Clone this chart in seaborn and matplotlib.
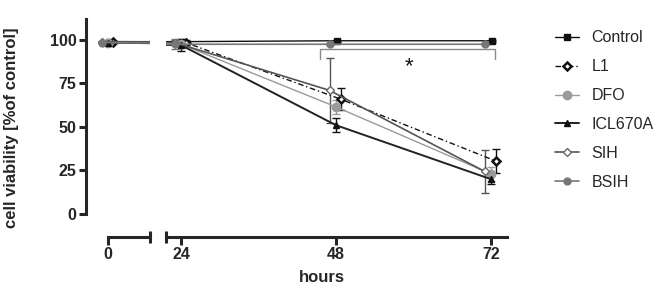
import numpy as np
import pandas as pd
import matplotlib
matplotlib.use("Agg")
import matplotlib.pyplot as plt
import seaborn as sns

# ===================== data (mean ± SD, % of control) =====================
hours = [0, 24, 48, 72]
groups = ["Control", "L1", "DFO", "ICL670A", "SIH", "BSIH"]

control = [99.0, 99.0, 99.5, 99.5]
control_sd = [0.5, 0.5, 0.5, 0.5]
l1 = [99.0, 98.5, 66.0, 30.5]
l1_sd = [0.5, 1.5, 6.5, 7.0]
dfo = [98.5, 97.5, 61.5, 23.0]
dfo_sd = [0.5, 2.0, 4.0, 4.0]
icl670a = [98.5, 97.0, 51.0, 20.0]
icl670a_sd = [0.5, 3.5, 4.0, 3.0]
sih = [99.0, 98.5, 71.0, 24.5]
sih_sd = [0.5, 1.5, 18.5, 12.5]
bsih = [98.5, 97.5, 97.5, 97.5]
bsih_sd = [0.5, 3.0, 0.5, 0.5]

means = dict(zip(groups, [control, l1, dfo, icl670a, sih, bsih]))
sds = dict(zip(groups, [control_sd, l1_sd, dfo_sd, icl670a_sd, sih_sd, bsih_sd]))

rows = []
for g in groups:
    for h, m, s in zip(hours, means[g], sds[g]):
        rows.append({"group": g, "hours": h, "viability": m, "sd": s})
df = pd.DataFrame(rows)

# ===================== style =====================
sns.set_style("ticks")
plt.rcParams["font.family"] = ["Liberation Sans", "DejaVu Sans"]

# GraphPad-like nudges so points don't sit on top of each other
styles = {
    "Control": dict(color="#111111", marker="s", mfc="#111111", mec="#111111", ls="-", lw=1.0, ms=5, mew=1.0, dx=0.15),
    "L1": dict(color="#111111", marker="D", mfc="white", mec="#111111", ls=(0, (4, 2, 1, 2)), lw=1.0, ms=4.5, mew=1.8, dx=0.7),
    "DFO": dict(color="#9a9a9a", marker="o", mfc="#9a9a9a", mec="#9a9a9a", ls="-", lw=1.0, ms=6, mew=1.0, dx=0.0),
    "ICL670A": dict(color="#222222", marker="^", mfc="#111111", mec="#111111", ls="-", lw=1.4, ms=5, mew=1.0, dx=0.0),
    "SIH": dict(color="#555555", marker="D", mfc="white", mec="#666666", ls="-", lw=1.2, ms=4.5, mew=1.0, dx=-1.0),
    "BSIH": dict(color="#777777", marker="o", mfc="#777777", mec="#777777", ls="-", lw=1.2, ms=5, mew=1.0, dx=-1.0),
}

fig = plt.figure(figsize=(6.6, 2.9), dpi=100)
W, H = 660, 290
px_per_h = 155 / 24
y_bottom, y_top = 214, 19
ymax = 112

def box(x0, x1):
    return [x0 / W, (H - y_bottom) / H, (x1 - x0) / W, (y_bottom - y_top) / H]

ax1 = fig.add_axes(box(86, 150))
ax2 = fig.add_axes(box(166, 510), sharey=ax1)
ax1.set_xlim(-22 / px_per_h, 64 / px_per_h - 22 / px_per_h)
ax2.set_xlim(24 - 15 / px_per_h, 24 + 329 / px_per_h)
ax1.set_ylim(0, ymax)

for ax in (ax1, ax2):
    for g in groups:
        st = styles[g]
        sub = df[df["group"] == g].copy()
        sub["x"] = sub["hours"] + st["dx"]
        ax.errorbar(sub["x"], sub["viability"], yerr=sub["sd"], fmt="none",
                    ecolor=st["color"] if g != "ICL670A" else "#111111",
                    elinewidth=1.0, capsize=3, capthick=1.0, zorder=2)
        sns.lineplot(data=sub, x="x", y="viability", ax=ax, color=st["color"],
                     linestyle=st["ls"], linewidth=st["lw"], marker=st["marker"],
                     markersize=st["ms"], markerfacecolor=st["mfc"],
                     markeredgecolor=st["mec"], markeredgewidth=st["mew"],
                     label=g, errorbar=None, sort=False, zorder=3)
    ax.set_xlabel("")
    ax.set_ylabel("")
    if ax.get_legend() is not None:
        ax.get_legend().remove()

# y axis
ax1.spines["left"].set_linewidth(2.2)
ax1.spines["left"].set_bounds(0, ymax)
ax1.set_yticks([0, 25, 50, 75, 100])
ax1.tick_params(axis="y", direction="out", length=5, width=2.2, labelsize=11.5, pad=2)
for t in ax1.get_yticklabels():
    t.set_fontweight("bold")
ax2.spines["left"].set_visible(False)
ax2.tick_params(axis="y", left=False, labelleft=False)
for ax in (ax1, ax2):
    ax.spines["top"].set_visible(False)
    ax.spines["right"].set_visible(False)

# broken x axis below the plot
for ax, lo, hi, ticks in ((ax1, 0, 42 / px_per_h - 0.05, [0]),
                          (ax2, 24 - 15 / px_per_h + 0.05, 24 + 326 / px_per_h, [24, 48, 72])):
    ax.spines["bottom"].set_position(("outward", 16.5))
    ax.spines["bottom"].set_linewidth(2.2)
    ax.spines["bottom"].set_bounds(lo, hi)
    ax.set_xticks(ticks)
    ax.tick_params(axis="x", direction="out", length=5.5, width=2.2, labelsize=11.5, pad=2)
    for t in ax.get_xticklabels():
        t.set_fontweight("bold")
ax1.set_xticks([42 / px_per_h - 0.05], minor=True)
ax2.set_xticks([24 - 15 / px_per_h + 0.05], minor=True)
for ax in (ax1, ax2):
    ax.tick_params(axis="x", which="minor", direction="inout", length=8, width=2.2)

# significance bracket
bx0, bx1, by, bdrop = 45.5, 72.6, 94.8, 89.0
ax2.plot([bx0, bx0, bx1, bx1], [bdrop, by, by, bdrop], color="#8a8a8a", lw=1.0, zorder=1)
ax2.text((bx0 + bx1) / 2 + 0.3, 84.5, "*", ha="center", va="center", fontsize=16, color="#111111")

# labels
fig.text(12 / W, 1 - 128 / H, "cell viability [%of control]", rotation=90, ha="center", va="center",
         fontsize=12, fontweight="bold")
fig.text(322 / W, 1 - 277 / H, "hours", ha="center", va="center", fontsize=12, fontweight="bold")

# legend
handles, labels = ax2.get_legend_handles_labels()
fig.legend(handles, labels, loc="upper left", bbox_to_anchor=(549 / W, 1 - 24 / H), frameon=False,
           fontsize=11.5, handlelength=1.45, handletextpad=0.8, labelspacing=0.87, borderaxespad=0)

fig.savefig("out.png", dpi=100)
